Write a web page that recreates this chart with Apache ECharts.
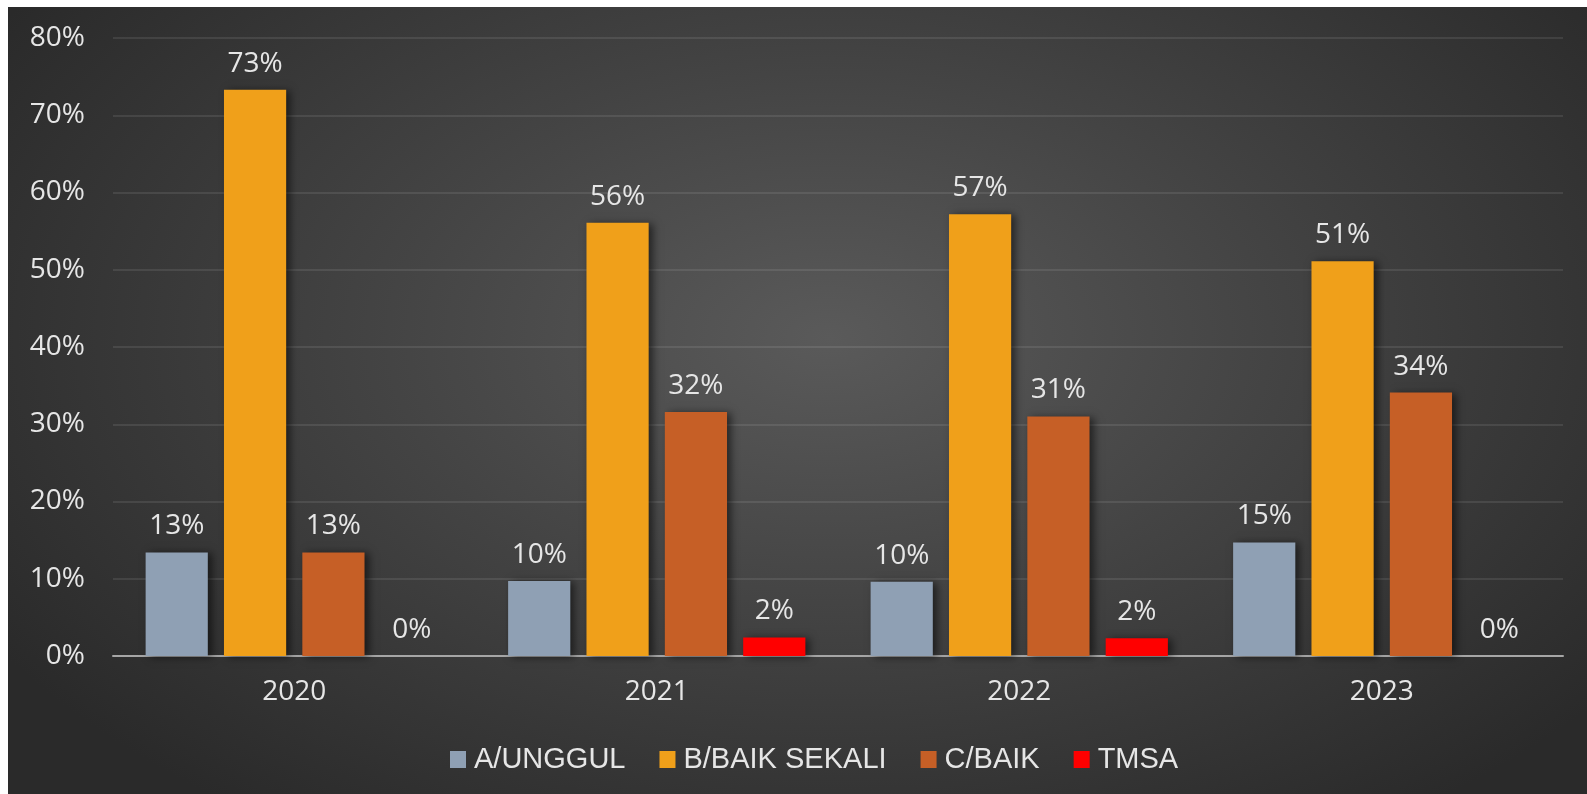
<!DOCTYPE html>
<html>
<head>
<meta charset="utf-8">
<script src="https://cdn.jsdelivr.net/npm/echarts@6/dist/echarts.min.js"></script>
<style>
  html, body { margin: 0; padding: 0; background: #ffffff; width: 1587px; height: 794px; overflow: hidden; }
  #chart {
    position: absolute; left: 8px; top: 7px; width: 1579px; height: 787px;
    background: radial-gradient(ellipse 62% 75% at 52% 42%, #5a5a5a 0%, #444444 45%, #2a2a2a 100%);
  }
</style>
</head>
<body>
<div id="chart"></div>
<script>
const categories = ['2020', '2021', '2022', '2023'];
const seriesNames = ['A/UNGGUL', 'B/BAIK SEKALI', 'C/BAIK', 'TMSA'];
const unggul = [13.4, 9.7, 9.6, 14.7];
const baikSekali = [73.3, 56.1, 57.2, 51.1];
const baik = [13.4, 31.6, 31.0, 34.1];
const tmsa = [0, 2.4, 2.3, 0];
const yTicks = [0, 10, 20, 30, 40, 50, 60, 70, 80];

const colors = ['#8fa0b4', '#f0a01a', '#c65f26', '#ff0000'];
const dataSets = [unggul, baikSekali, baik, tmsa];

const chart = echarts.init(document.getElementById('chart'), null, { renderer: 'canvas' });

const series = dataSets.map((d, i) => ({
  name: seriesNames[i],
  type: 'bar',
  data: d,
  barGap: '26%',
  barCategoryGap: '18%',
  itemStyle: {
    color: colors[i],
    shadowColor: 'rgba(0,0,0,0.55)',
    shadowBlur: 8,
    shadowOffsetX: 4,
    shadowOffsetY: 1
  },
  label: {
    show: true,
    position: 'top',
    distance: 12,
    color: '#e6e6e6',
    fontSize: 28,
    fontFamily: 'Open Sans',
    formatter: p => Math.round(p.value) + '%'
  }
}));

chart.setOption({
  backgroundColor: 'transparent',
  animation: false,
  color: colors,
  grid: { left: 105, right: 24, top: 31, bottom: 138 },
  legend: {
    data: seriesNames,
    top: 733,
    left: 437,
    icon: 'rect',
    itemWidth: 16,
    itemHeight: 17,
    itemGap: 34,
    textStyle: { color: '#e6e6e6', fontSize: 29, fontFamily: "'Liberation Sans', Arial, sans-serif", padding: [0, 0, 0, 3] }
  },
  xAxis: {
    type: 'category',
    data: categories,
    axisTick: { show: false },
    axisLine: { lineStyle: { color: '#a6a6a6', width: 2 } },
    axisLabel: { color: '#e6e6e6', fontSize: 28, fontFamily: 'Open Sans', margin: 22 }
  },
  yAxis: {
    type: 'value',
    min: yTicks[0],
    max: yTicks[yTicks.length - 1],
    interval: 10,
    axisLine: { show: false },
    axisTick: { show: false },
    splitLine: { lineStyle: { color: 'rgba(255,255,255,0.12)', width: 1.5 } },
    axisLabel: { color: '#e6e6e6', fontSize: 28, fontFamily: 'Open Sans', margin: 28, formatter: v => v + '%' }
  },
  series: series
});
</script>
</body>
</html>
